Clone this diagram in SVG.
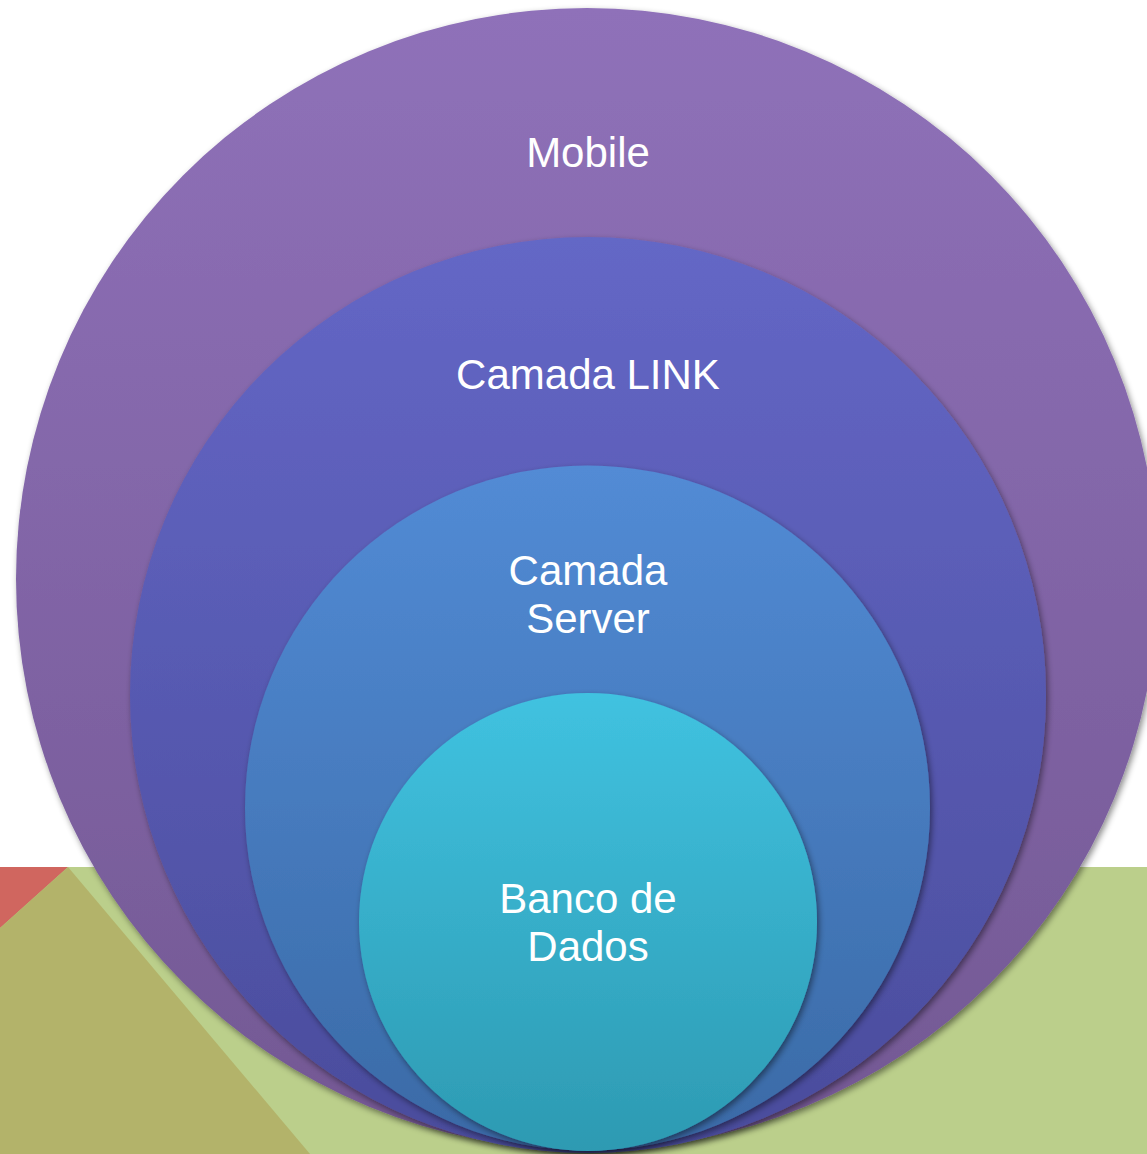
<svg xmlns="http://www.w3.org/2000/svg" width="1147" height="1154" viewBox="0 0 1147 1154">
<defs>
<linearGradient id="gMobile" x1="0" y1="0" x2="0" y2="1"><stop offset="0" stop-color="#8f71b9"/><stop offset="1" stop-color="#735893"/></linearGradient>
<linearGradient id="gLink" x1="0" y1="0" x2="0" y2="1"><stop offset="0" stop-color="#6467c6"/><stop offset="1" stop-color="#4a4c9c"/></linearGradient>
<linearGradient id="gServer" x1="0" y1="0" x2="0" y2="1"><stop offset="0" stop-color="#528bd5"/><stop offset="1" stop-color="#3a6aa6"/></linearGradient>
<linearGradient id="gBanco" x1="0" y1="0" x2="0" y2="1"><stop offset="0" stop-color="#40c2e0"/><stop offset="1" stop-color="#2d9ab2"/></linearGradient>
<filter id="sh" x="-10%" y="-10%" width="120%" height="120%"><feDropShadow dx="2" dy="3" stdDeviation="3" flood-color="#000" flood-opacity="0.45"/></filter>
</defs>
<style>
.lbl{font-family:"Liberation Sans","Open Sans",Arial,sans-serif;font-size:42px;fill:#ffffff;text-anchor:middle}
</style>
<rect width="1147" height="1154" fill="#ffffff"/>
<g id="background">
<rect x="0" y="867" width="1147" height="287" fill="#bbcf8b"/>
<polygon points="0,867 68,867 0,928" fill="#d0665f"/>
<polygon points="0,928 68,867 310,1154 0,1154" fill="#b3b36a"/>
</g>
<g id="mobile">
<circle cx="587" cy="579" r="571" fill="url(#gMobile)" filter="url(#sh)"/>
<text class="lbl" x="588" y="167">Mobile</text>
</g>
<g id="camada-link">
<circle cx="588" cy="695" r="458" fill="url(#gLink)" filter="url(#sh)"/>
<text class="lbl" x="588" y="389">Camada LINK</text>
</g>
<g id="camada-server">
<circle cx="587.5" cy="808" r="342.5" fill="url(#gServer)" filter="url(#sh)"/>
<text class="lbl" x="588" y="585">Camada</text>
<text class="lbl" x="588" y="633">Server</text>
</g>
<g id="banco-de-dados">
<circle cx="588" cy="922" r="229" fill="url(#gBanco)" filter="url(#sh)"/>
<text class="lbl" x="588" y="913">Banco de</text>
<text class="lbl" x="588" y="961">Dados</text>
</g>
<g id="connectors"/>
</svg>
